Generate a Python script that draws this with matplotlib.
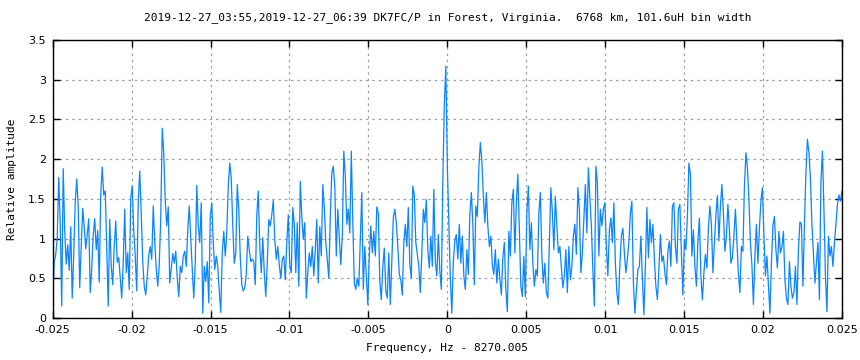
import matplotlib
matplotlib.use("Agg")
import matplotlib.pyplot as plt
import numpy as np
from matplotlib.ticker import FuncFormatter, MultipleLocator


title = ("2019-12-27_03:55,2019-12-27_06:39 DK7FC/P in Forest, Virginia.  "
         "6768 km, 101.6uH bin width")
x_label = "Frequency, Hz - 8270.005"
y_label = "Relative amplitude"

# amplitude per bin from left to right
amp_a = [0.2, 0.7, 0.8, 1.0, 1.77, 1.2, 0.15, 1.88, 1.1, 0.68, 0.92, 0.6, 1.15, 0.25, 0.8,
         1.45, 1.75, 1.4, 0.38, 0.9, 1.38, 1.15, 0.87, 1.05, 1.25, 0.32, 0.62, 1.05, 1.25,
         0.86, 1.1, 0.45, 1.55, 1.9, 1.55, 1.6, 0.86, 0.15, 1.24, 0.65, 0.42, 0.9, 1.22,
         0.7, 0.76, 0.5, 0.25, 0.7, 1.37, 0.57, 0.82]
amp_b = [0.36, 1.51, 1.66, 1.1, 0.78, 0.34, 1.47, 1.85, 1.32, 0.71, 0.4, 0.29, 0.53, 0.79,
         0.9, 0.74, 1.41, 0.95, 0.62, 0.4, 0.67, 1.26, 2.39, 2.08, 1.47, 1.16, 1.4, 0.44,
         0.62, 0.81, 0.69, 0.84, 0.5, 0.27, 0.65, 0.57, 0.78, 0.84, 0.65, 1.11, 1.41, 0.99,
         0.61, 0.25, 0.69, 1.67, 1.16, 0.95, 1.45, 0.06, 0.65]
amp_c = [0.46, 0.71, 0.19, 1.28, 1.45, 0.95, 0.61, 0.78, 0.65, 0.34, 0.07, 0.82, 1.09, 0.78,
         1.07, 1.66, 1.95, 1.76, 1.16, 0.69, 0.82, 1.68, 1.37, 0.76, 0.42, 0.34, 0.38, 0.55,
         1.03, 0.86, 0.71, 0.74, 0.71, 0.42, 1.29, 1.6, 0.9, 0.57, 1.01, 0.57, 0.27, 0.69,
         1.24, 1.16, 1.3, 1.48, 0.99, 0.74, 0.9, 0.67, 0.5, 0.74]
amp_d = [0.78, 0.48, 0.95, 1.3, 0.65, 0.57, 1.39, 1.18, 0.57, 1.2, 0.4, 1.72, 1.28, 0.99,
         1.2, 0.25, 0.57, 0.82, 0.65, 0.9, 0.53, 0.86, 1.24, 0.44, 1.15, 0.78, 1.68, 1.39,
         0.95, 0.74, 0.5, 1.28, 1.83, 1.91, 1.66, 0.78, 1.37, 1.03, 0.67, 1.03, 2.1, 1.79,
         1.18, 1.37, 1.07, 2.1, 1.2, 0.44, 0.36, 0.5, 0.4, 0.99, 1.58, 0.36]
amp_e = [0.9, 0.53, 0.17, 0.8, 1.16, 0.82, 1.09, 0.78, 1.4, 1.32, 0.46, 0.23, 0.65, 0.88,
         0.34, 0.25, 0.82, 0.17, 0.71, 1.26, 1.37, 1.2, 0.9, 0.55, 0.48, 0.29, 0.95, 1.18,
         0.9, 1.39, 0.67, 0.5, 1.66, 1.55, 0.95, 0.8, 0.65, 0.32, 0.82, 1.37, 1.2, 1.49,
         0.86, 0.63, 1.03, 0.65, 1.62, 0.71, 0.53, 1.05, 0.59, 0.36, 1.74, 2.69, 3.17, 1.91,
         1.18, 0.5, 0.06]
amp_f = [0.71, 0.97, 1.05, 0.74, 1.18, 0.69, 1.03, 0.53, 0.36, 0.86, 0.55, 1.3, 1.58, 1.18,
         0.42, 1.41, 1.28, 1.89, 2.21, 1.97, 1.53, 1.2, 1.58, 1.16, 0.9, 1.03, 0.67, 0.55,
         0.86, 0.44, 0.74, 0.5, 0.29, 0.76, 0.95, 0.36, 0.08, 1.09, 0.78, 1.45, 1.62, 0.82,
         1.45, 1.81, 1.09, 0.4, 0.27, 0.78, 0.27, 1.32, 1.66, 0.86, 1.2]
amp_g = [0.69, 0.4, 0.61, 0.53, 1.32, 1.58, 0.78, 0.44, 0.69, 0.32, 0.25, 0.95, 1.64, 1.34,
         0.86, 1.53, 1.16, 0.82, 0.9, 0.63, 0.38, 0.53, 0.86, 0.32, 0.9, 0.48, 0.65, 1.03,
         1.18, 0.8, 1.64, 1.37, 0.57, 0.82, 1.24, 1.68, 1.07, 1.89, 1.51, 1.16, 0.61, 0.15,
         1.91, 1.7, 0.78, 1.37, 1.16, 1.37, 1.45, 0.9, 0.53, 1.11, 1.26]
amp_h = [0.95, 1.45, 0.69, 0.32, 0.17, 0.67, 1.03, 1.13, 0.82, 0.57, 0.74, 0.95, 1.32, 1.47,
         0.44, 0.06, 0.34, 0.61, 0.65, 1.03, 0.5, 0.04, 0.65, 1.39, 0.76, 1.24, 0.95, 1.18,
         0.74, 0.4, 0.23, 0.61, 1.05, 0.71, 0.78, 0.57, 0.42, 0.84, 0.97, 0.65, 1.41, 1.45,
         0.9, 0.69, 1.37, 1.43, 0.82, 0.29, 0.99, 0.86, 1.28, 1.95, 1.81, 0.78]
amp_i = [1.11, 0.65, 0.4, 0.97, 1.26, 0.53, 0.23, 0.57, 0.8, 0.63, 1.13, 1.41, 1.18, 0.57,
         0.95, 1.3, 1.54, 0.97, 1.41, 1.68, 1.32, 0.84, 1.03, 1.43, 1.11, 0.69, 0.76, 1.03,
         1.37, 0.95, 0.55, 0.32, 0.9, 0.84, 1.66, 2.08, 1.89, 1.49, 0.95, 0.67, 0.17, 0.78,
         1.18, 0.69, 1.13, 1.47, 1.64, 1.05, 0.53, 0.78, 0.42, 0.06, 0.69]
amp_j = [1.16, 1.28, 0.86, 0.63, 1.09, 0.82, 0.9, 1.09, 0.48, 0.25, 0.17, 0.71, 0.4, 0.25,
         0.32, 0.65, 0.17, 0.86, 1.21, 1.18, 0.4, 1.18, 1.83, 2.25, 2.08, 1.76, 1.18, 0.82,
         0.44, 0.69, 0.95, 0.23, 1.72, 2.1, 1.37, 0.53, 0.08, 1.03, 0.78, 0.9, 0.65, 0.95,
         1.18, 1.43, 1.55, 1.47, 1.6]

amps = np.array(amp_a + amp_b + amp_c + amp_d + amp_e + amp_f + amp_g + amp_h + amp_i + amp_j)
freq = np.linspace(-0.025, 0.025, len(amps))


def tick_fmt(v, pos):
    return f"{round(v, 6) + 0:g}"


fig = plt.figure(figsize=(8.6, 3.6), dpi=100)
ax = fig.add_axes([0.0613, 0.1167, 0.9177, 0.7722])

ax.plot(freq, amps, color="#0a84ff", lw=0.9)

ax.set_xlim(-0.025, 0.025)
ax.set_ylim(0, 3.5)
ax.xaxis.set_major_locator(MultipleLocator(0.005))
ax.yaxis.set_major_locator(MultipleLocator(0.5))
ax.xaxis.set_major_formatter(FuncFormatter(tick_fmt))
ax.yaxis.set_major_formatter(FuncFormatter(tick_fmt))
ax.grid(True, color="#a0a0a0", linestyle=(0, (2, 3)), lw=0.9)
ax.tick_params(direction="in", length=5, width=1, top=True, right=True,
               labelsize=8, pad=5, colors="black")
for s in ax.spines.values():
    s.set_linewidth(1.0)
    s.set_color("black")

ax.set_title(title, fontsize=8, family="DejaVu Sans Mono", pad=14)
ax.set_xlabel(x_label, fontsize=8, family="DejaVu Sans Mono", labelpad=6)
ax.set_ylabel(y_label, fontsize=8, family="DejaVu Sans Mono", labelpad=8)

fig.savefig("out.png", dpi=100)
